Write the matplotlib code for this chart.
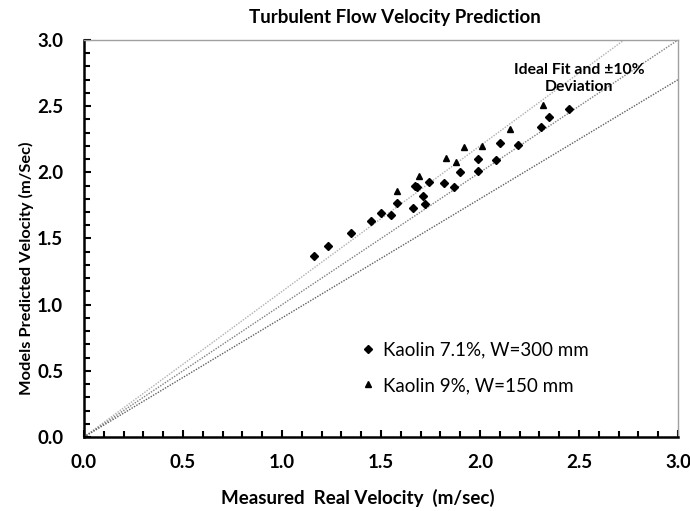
import matplotlib
matplotlib.use("Agg")
import matplotlib.pyplot as plt
from matplotlib.ticker import MultipleLocator
import numpy as np

plt.rcParams['font.family'] = ['Lato', 'DejaVu Sans']

# Kaolin 7.1%, W=300 mm (diamonds)
k71_x = [1.16, 1.23, 1.35, 1.45, 1.50, 1.55, 1.58, 1.66, 1.67, 1.68, 1.71, 1.72, 1.74,
         1.82, 1.87, 1.90, 1.99, 1.99, 2.08, 2.10, 2.19, 2.31, 2.35, 2.45]
k71_y = [1.37, 1.44, 1.54, 1.63, 1.69, 1.68, 1.77, 1.73, 1.90, 1.89, 1.82, 1.76, 1.93,
         1.92, 1.89, 2.00, 2.10, 2.01, 2.09, 2.22, 2.21, 2.34, 2.42, 2.48]

# Kaolin 9%, W=150 mm (triangles)
k9_x = [1.58, 1.69, 1.83, 1.88, 1.92, 2.01, 2.15, 2.32]
k9_y = [1.86, 1.97, 2.11, 2.08, 2.19, 2.20, 2.33, 2.51]

fit_factors = [1.1, 1.0, 0.9]
fit_colors = ['#b0b0b0', '#808080', '#606060']
ticks = [0.0, 0.5, 1.0, 1.5, 2.0, 2.5, 3.0]

fig = plt.figure(figsize=(6.9, 5.11), dpi=100)
ax = fig.add_axes([0.1217, 0.1448, 0.861, 0.777])

xl = np.array([0.0, 3.0])
for f, c in zip(fit_factors, fit_colors):
    ax.plot(xl, f * xl, linestyle=(0, (1, 1)), color=c, linewidth=1.0, zorder=1)

ax.plot(k71_x, k71_y, linestyle='none', marker='D', markersize=3.6, color='black',
        label='Kaolin 7.1%, W=300 mm', zorder=3)
ax.plot(k9_x, k9_y, linestyle='none', marker='^', markersize=5, color='black',
        label='Kaolin 9%, W=150 mm', zorder=3)

ax.set_xlim(0, 3)
ax.set_ylim(0, 3)
ax.set_xticks(ticks)
ax.set_yticks(ticks)
ax.set_xticklabels([f"{t:.1f}" for t in ticks])
ax.set_yticklabels([f"{t:.1f}" for t in ticks])
ax.xaxis.set_minor_locator(MultipleLocator(0.1))
ax.yaxis.set_minor_locator(MultipleLocator(0.1))
ax.tick_params(which='both', direction='in', top=False, right=False, width=1.5, color='black')
ax.tick_params(which='major', length=5, labelsize=13.5)
ax.tick_params(axis='x', which='major', pad=12)
ax.tick_params(axis='y', which='major', pad=15)
ax.tick_params(which='minor', length=4)
for lbl in ax.get_xticklabels() + ax.get_yticklabels():
    lbl.set_fontweight('bold')

ax.spines['left'].set_linewidth(1.8)
ax.spines['bottom'].set_linewidth(1.8)
ax.spines['top'].set_color('#a0a0a0')
ax.spines['right'].set_color('#a0a0a0')
ax.spines['top'].set_linewidth(1.0)
ax.spines['right'].set_linewidth(1.0)

fig.text(358 / 690, 1 - 498 / 511, 'Measured  Real Velocity  (m/sec)', ha='center', va='center',
         fontsize=13.5, fontweight='bold')
fig.text(26 / 690, 1 - 268 / 511, 'Models Predicted Velocity (m/Sec)', ha='center', va='center',
         rotation=90, fontsize=11.8, fontweight='bold')
fig.text(395 / 690, 1 - 18 / 511, 'Turbulent Flow Velocity Prediction', ha='center', va='center',
         fontsize=13.5, fontweight='bold')

ax.text(2.50, 2.71, 'Ideal Fit and \u00b110%\nDeviation', ha='center', va='center',
        fontsize=11.3, fontweight='bold', linespacing=1.3)

ax.legend(loc='center left', bbox_to_anchor=(0.44, 0.175), frameon=False, fontsize=13.5,
          handlelength=0.6, handletextpad=0.5, labelspacing=1.0)

fig.savefig('out.png', dpi=100)
